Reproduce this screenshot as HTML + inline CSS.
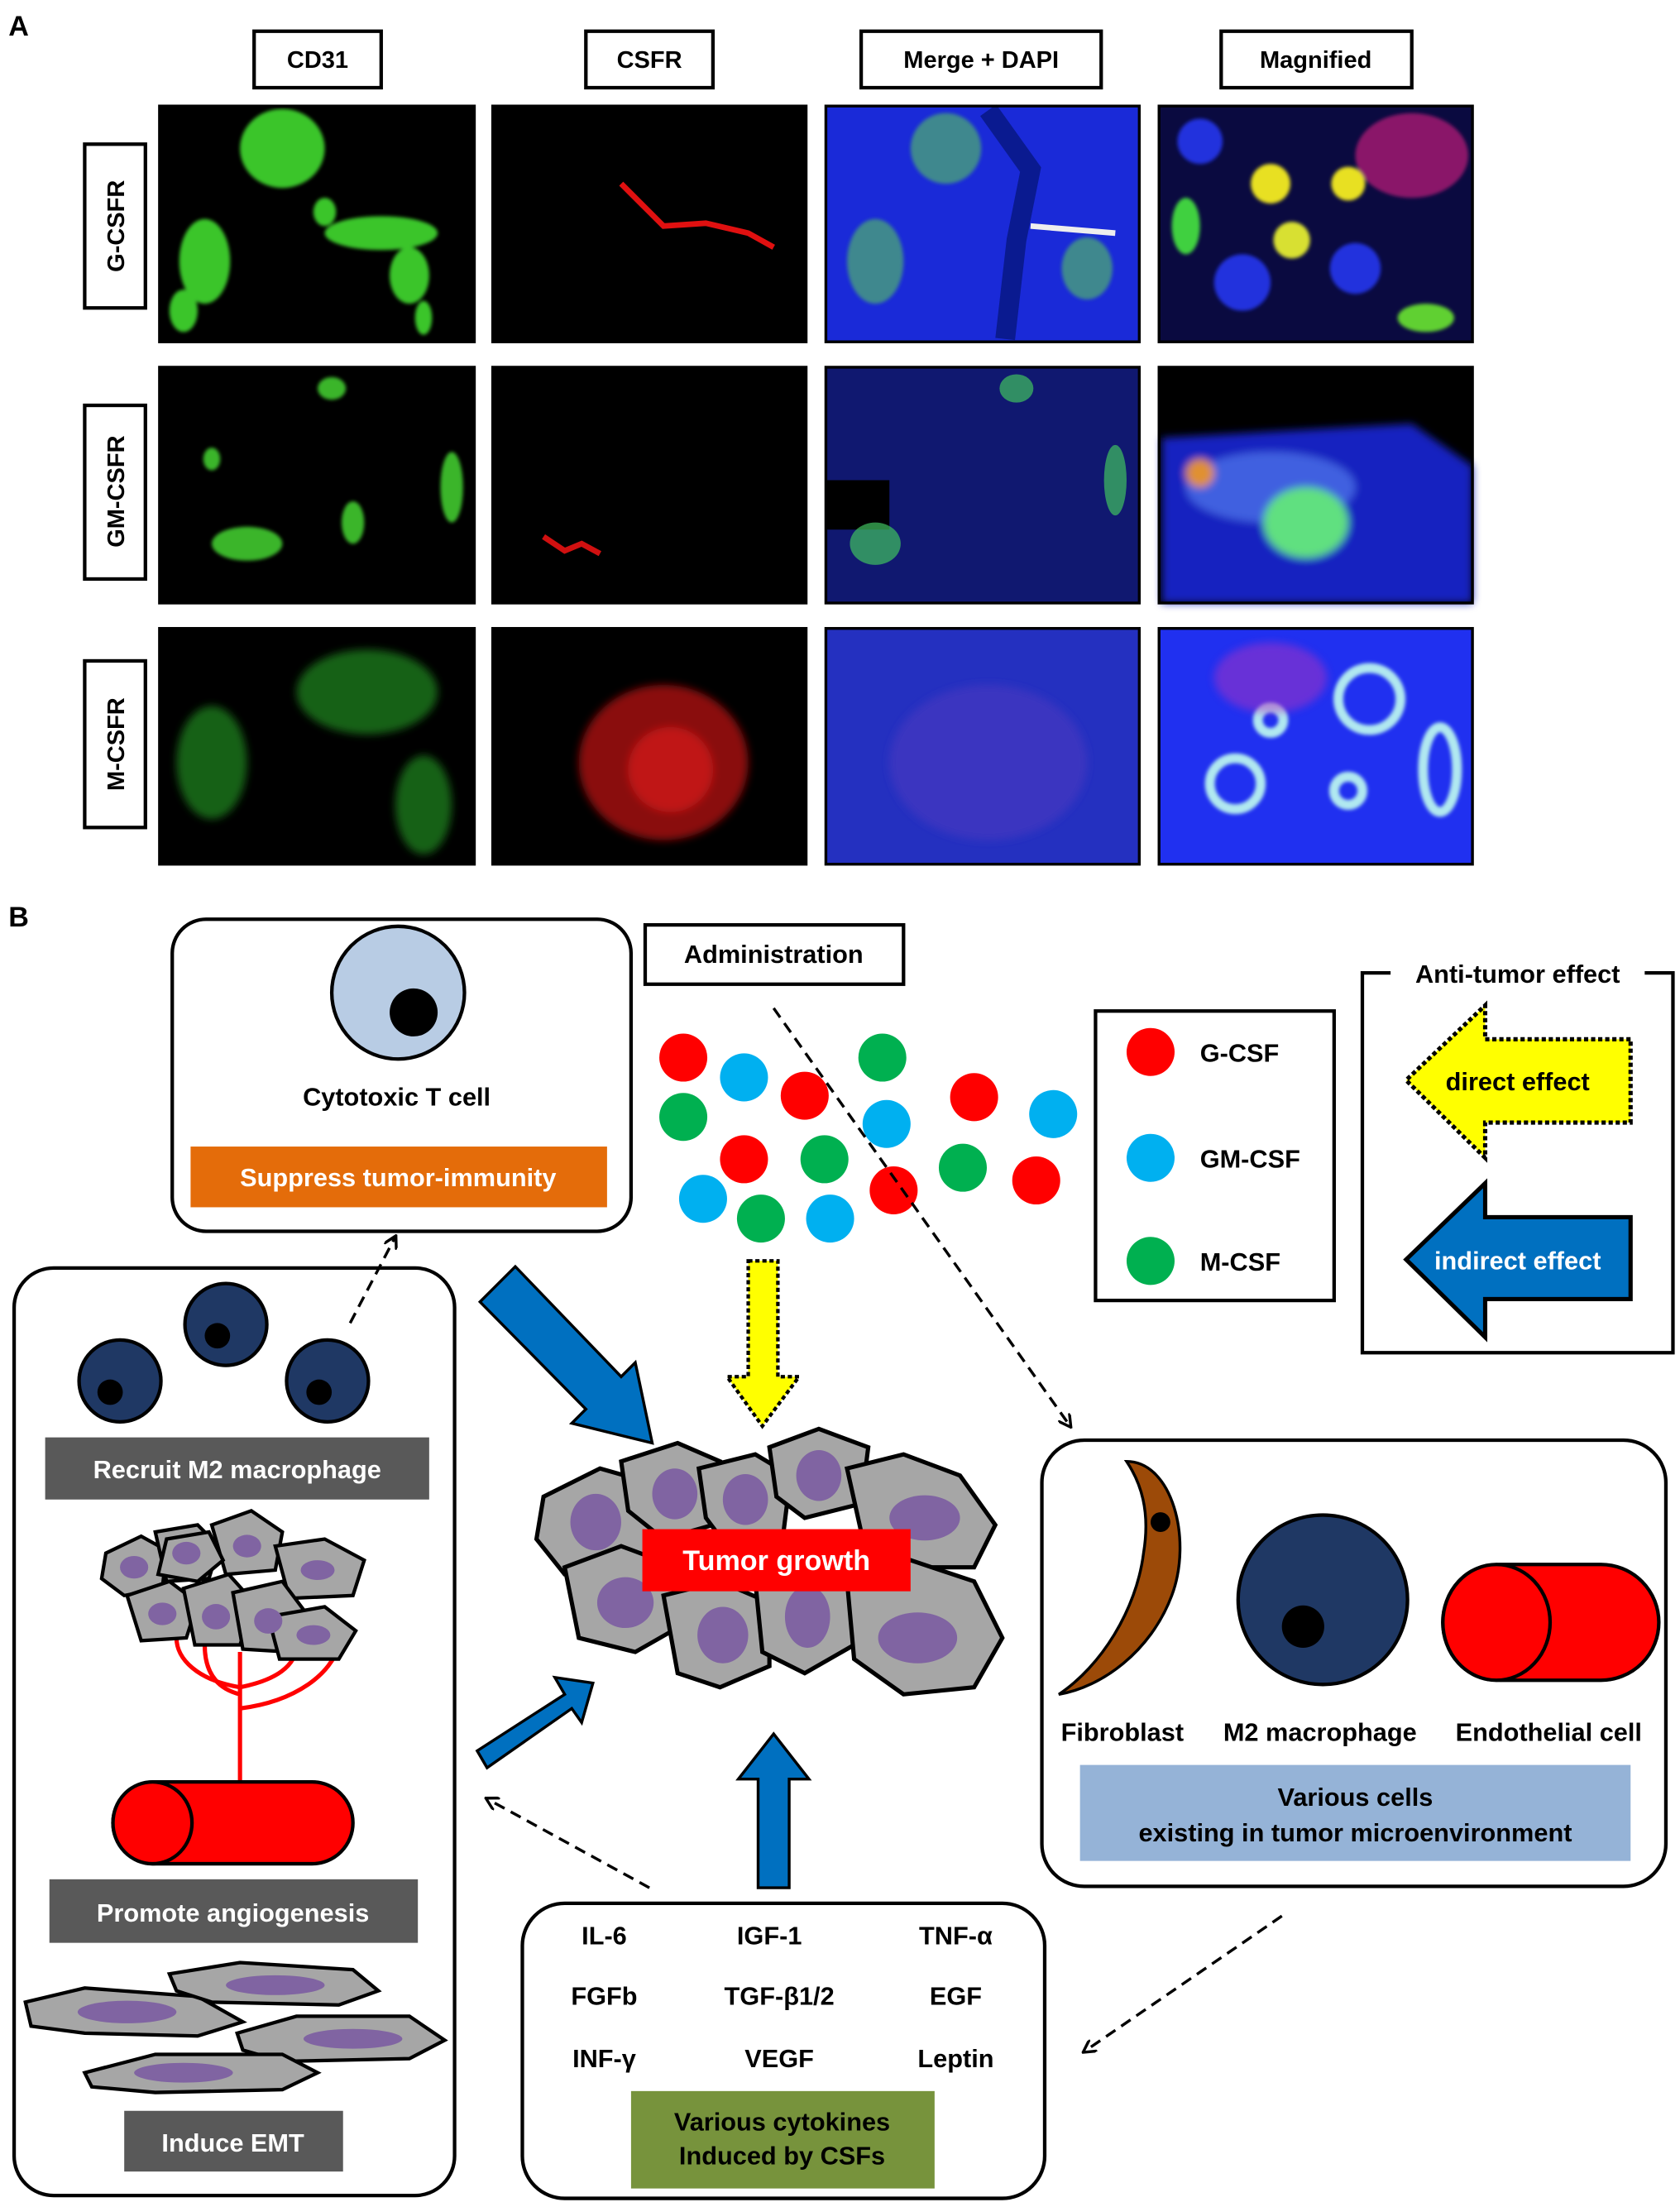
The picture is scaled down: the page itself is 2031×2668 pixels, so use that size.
<!DOCTYPE html>
<html><head><meta charset="utf-8"><style>
html,body{margin:0;padding:0;background:#fff}
svg{display:block}
text{font-family:"Liberation Sans",Arial,sans-serif;font-weight:bold}
</style></head><body>
<svg width="2031" height="2668" viewBox="0 0 1190 1563" xmlns="http://www.w3.org/2000/svg">
<defs>
<filter id="bl"><feGaussianBlur stdDeviation="3"/></filter>
<filter id="bl2"><feGaussianBlur stdDeviation="1.2"/></filter>
<marker id="ah" markerWidth="10" markerHeight="10" refX="8" refY="5" orient="auto" markerUnits="userSpaceOnUse"><path d="M0,0 L9,5 L0,10" fill="none" stroke="#000" stroke-width="2"/></marker>
</defs>
<rect width="1190" height="1563" fill="#fff"/>
<text x="6" y="25" font-size="20">A</text>
<text x="6" y="656" font-size="20">B</text>
<g font-size="17" text-anchor="middle">
<rect x="180" y="22" width="90" height="40" fill="#fff" stroke="#000" stroke-width="2.5"/><text x="225" y="48">CD31</text>
<rect x="415" y="22" width="90" height="40" fill="#fff" stroke="#000" stroke-width="2.5"/><text x="460" y="48">CSFR</text>
<rect x="610" y="22" width="170" height="40" fill="#fff" stroke="#000" stroke-width="2.5"/><text x="695" y="48">Merge + DAPI</text>
<rect x="865" y="22" width="135" height="40" fill="#fff" stroke="#000" stroke-width="2.5"/><text x="932" y="48">Magnified</text>
</g>
<g font-size="17" text-anchor="middle">
<rect x="60" y="102" width="43" height="116" fill="#fff" stroke="#000" stroke-width="2.5"/><text transform="translate(88,160) rotate(-90)">G-CSFR</text>
<rect x="60" y="287" width="43" height="123" fill="#fff" stroke="#000" stroke-width="2.5"/><text transform="translate(88,348) rotate(-90)">GM-CSFR</text>
<rect x="60" y="468" width="43" height="118" fill="#fff" stroke="#000" stroke-width="2.5"/><text transform="translate(88,527) rotate(-90)">M-CSFR</text>
</g>
<!-- row 1 -->
<rect x="113" y="75" width="223" height="167" fill="#000"/>
<g fill="#3ac52a" filter="url(#bl2)"><ellipse cx="200" cy="105" rx="30" ry="28"/><ellipse cx="145" cy="185" rx="18" ry="30"/><ellipse cx="270" cy="165" rx="40" ry="12"/><ellipse cx="290" cy="195" rx="14" ry="20"/><ellipse cx="230" cy="150" rx="8" ry="10"/><ellipse cx="130" cy="220" rx="10" ry="15"/><ellipse cx="300" cy="225" rx="6" ry="12"/></g>
<rect x="349" y="75" width="222" height="167" fill="#000"/>
<path d="M440,130 L455,145 L470,160 L500,158 L530,165 L548,175" stroke="#e01010" stroke-width="4" fill="none"/>
<rect x="585" y="75" width="222" height="167" fill="#1a2ad8"/>
<g fill="#4fb070" opacity="0.7" filter="url(#bl2)"><ellipse cx="670" cy="105" rx="25" ry="25"/><ellipse cx="620" cy="185" rx="20" ry="30"/><ellipse cx="770" cy="190" rx="18" ry="22"/></g>
<path d="M700,78 L730,120 L720,170 L712,240" stroke="#0a1a90" stroke-width="14" fill="none"/>
<path d="M730,160 L790,165" stroke="#eee" stroke-width="4"/>
<rect x="821" y="75" width="222" height="167" fill="#0a0a40"/>
<g filter="url(#bl2)"><ellipse cx="1000" cy="110" rx="40" ry="30" fill="#c0207a" opacity="0.7"/><circle cx="900" cy="130" r="14" fill="#e8e020"/><circle cx="955" cy="130" r="12" fill="#e8e020"/><circle cx="915" cy="170" r="13" fill="#d8e030"/><ellipse cx="840" cy="160" rx="10" ry="20" fill="#40d040"/><ellipse cx="1010" cy="225" rx="20" ry="10" fill="#60d030"/><circle cx="880" cy="200" r="20" fill="#2233dd"/><circle cx="960" cy="190" r="18" fill="#2233dd"/><circle cx="850" cy="100" r="16" fill="#2233dd"/></g>
<!-- row 2 -->
<rect x="113" y="260" width="223" height="167" fill="#000"/>
<g fill="#3ab52a" filter="url(#bl2)"><ellipse cx="175" cy="385" rx="25" ry="12"/><ellipse cx="235" cy="275" rx="10" ry="8"/><ellipse cx="250" cy="370" rx="8" ry="15"/><ellipse cx="320" cy="345" rx="8" ry="25"/><ellipse cx="150" cy="325" rx="6" ry="8"/></g>
<rect x="349" y="260" width="222" height="167" fill="#000"/>
<path d="M385,380 L400,390 L412,385 L425,392" stroke="#d01010" stroke-width="4" fill="none"/>
<rect x="585" y="260" width="222" height="167" fill="#101870"/>
<rect x="585" y="340" width="45" height="35" fill="#000"/>
<g fill="#40c060" opacity="0.7"><ellipse cx="620" cy="385" rx="18" ry="15"/><ellipse cx="720" cy="275" rx="12" ry="10"/><ellipse cx="790" cy="340" rx="8" ry="25"/></g>
<rect x="821" y="260" width="222" height="167" fill="#000"/>
<g filter="url(#bl)"><path d="M823,310 L1000,300 L1043,330 L1043,427 L823,427 Z" fill="#1522c0"/><ellipse cx="900" cy="345" rx="60" ry="25" fill="#4060e0"/><ellipse cx="925" cy="370" rx="30" ry="25" fill="#60e080"/><circle cx="850" cy="335" r="10" fill="#e09030"/></g>
<!-- row 3 -->
<rect x="113" y="445" width="223" height="167" fill="#000"/>
<g fill="#1c7a1c" opacity="0.8" filter="url(#bl)"><ellipse cx="260" cy="490" rx="50" ry="30"/><ellipse cx="150" cy="540" rx="25" ry="40"/><ellipse cx="300" cy="570" rx="20" ry="35"/></g>
<rect x="349" y="445" width="222" height="167" fill="#000"/>
<g filter="url(#bl)"><ellipse cx="470" cy="540" rx="60" ry="55" fill="#8a1010"/><ellipse cx="475" cy="545" rx="30" ry="30" fill="#c01818"/></g>
<rect x="585" y="445" width="222" height="167" fill="#2430c0"/>
<ellipse cx="700" cy="540" rx="70" ry="55" fill="#3a34c0" filter="url(#bl)"/>
<rect x="821" y="445" width="222" height="167" fill="#2030f0"/>
<g filter="url(#bl2)" fill="none" stroke="#b0e8f0" stroke-width="7"><circle cx="970" cy="495" r="22"/><circle cx="900" cy="510" r="9"/><circle cx="875" cy="555" r="18"/><circle cx="955" cy="560" r="10"/><ellipse cx="1020" cy="545" rx="12" ry="30"/></g>
<ellipse cx="900" cy="480" rx="40" ry="25" fill="#b030c0" opacity="0.5" filter="url(#bl)"/>
<g fill="none" stroke="#000" stroke-width="2">
<rect x="113" y="75" width="223" height="167"/><rect x="349" y="75" width="222" height="167"/><rect x="585" y="75" width="222" height="167"/><rect x="821" y="75" width="222" height="167"/>
<rect x="113" y="260" width="223" height="167"/><rect x="349" y="260" width="222" height="167"/><rect x="585" y="260" width="222" height="167"/><rect x="821" y="260" width="222" height="167"/>
<rect x="113" y="445" width="223" height="167"/><rect x="349" y="445" width="222" height="167"/><rect x="585" y="445" width="222" height="167"/><rect x="821" y="445" width="222" height="167"/>
</g>

<!-- Panel B -->
<rect x="122" y="651" width="325" height="221" rx="24" fill="#fff" stroke="#000" stroke-width="2.5"/>
<circle cx="282" cy="703" r="47" fill="#b8cce4" stroke="#000" stroke-width="2.5"/>
<circle cx="293" cy="717" r="17" fill="#000"/>
<text x="281" y="783" font-size="18" text-anchor="middle">Cytotoxic T cell</text>
<rect x="135" y="812" width="295" height="43" fill="#e46c0a"/>
<text x="282" y="840" font-size="18" fill="#fff" text-anchor="middle">Suppress tumor-immunity</text>

<rect x="457" y="655" width="183" height="42" fill="#fff" stroke="#000" stroke-width="2.5"/>
<text x="548" y="682" font-size="18" text-anchor="middle">Administration</text>

<g fill="#ff0000"><circle cx="484" cy="749" r="17"/><circle cx="570" cy="776" r="17"/><circle cx="527" cy="821" r="17"/><circle cx="690" cy="777" r="17"/><circle cx="633" cy="843" r="17"/><circle cx="734" cy="836" r="17"/></g>
<g fill="#00b0f0"><circle cx="527" cy="763" r="17"/><circle cx="628" cy="796" r="17"/><circle cx="498" cy="849" r="17"/><circle cx="588" cy="863" r="17"/><circle cx="746" cy="789" r="17"/></g>
<g fill="#00b050"><circle cx="484" cy="791" r="17"/><circle cx="625" cy="749" r="17"/><circle cx="584" cy="821" r="17"/><circle cx="539" cy="863" r="17"/><circle cx="682" cy="827" r="17"/></g>
<line x1="548" y1="714" x2="758" y2="1010" stroke="#000" stroke-width="2" stroke-dasharray="8,5" marker-end="url(#ah)"/>

<rect x="776" y="716" width="169" height="205" fill="#fff" stroke="#000" stroke-width="2.5"/>
<circle cx="815" cy="745" r="17" fill="#ff0000"/><text x="850" y="752" font-size="18">G-CSF</text>
<circle cx="815" cy="820" r="17" fill="#00b0f0"/><text x="850" y="827" font-size="18">GM-CSF</text>
<circle cx="815" cy="893" r="17" fill="#00b050"/><text x="850" y="900" font-size="18">M-CSF</text>

<path d="M985,689 L965,689 L965,958 L1185,958 L1185,689 L1165,689" fill="none" stroke="#000" stroke-width="2.5"/>
<text x="1075" y="696" font-size="18" text-anchor="middle">Anti-tumor effect</text>
<path d="M1155,736 L1052,736 L1052,712 L996,765 L1052,820 L1052,795 L1155,795 Z" fill="#ffff00" stroke="#000" stroke-width="3" stroke-dasharray="3,2"/>
<text x="1075" y="772" font-size="18" text-anchor="middle">direct effect</text>
<path d="M1155,862 L1052,862 L1052,838 L996,892 L1052,947 L1052,920 L1155,920 Z" fill="#0070c0" stroke="#000" stroke-width="3"/>
<text x="1075" y="899" font-size="18" fill="#fff" text-anchor="middle">indirect effect</text>

<!-- left box -->
<rect x="10" y="898" width="312" height="657" rx="28" fill="#fff" stroke="#000" stroke-width="2.5"/>
<g fill="#1f3864" stroke="#000" stroke-width="2.5"><circle cx="85" cy="978" r="29"/><circle cx="160" cy="938" r="29"/><circle cx="232" cy="978" r="29"/></g>
<g fill="#000"><circle cx="78" cy="986" r="9"/><circle cx="154" cy="946" r="9"/><circle cx="226" cy="986" r="9"/></g>
<line x1="248" y1="937" x2="280" y2="876" stroke="#000" stroke-width="2" stroke-dasharray="8,5" marker-end="url(#ah)"/>
<rect x="32" y="1018" width="272" height="44" fill="#595959"/>
<text x="168" y="1047" font-size="18" fill="#fff" text-anchor="middle">Recruit M2 macrophage</text>
<g stroke="#ff0000" stroke-width="3" fill="none"><path d="M170,1170 L170,1262"/><path d="M170,1195 C140,1190 125,1175 125,1160"/><path d="M170,1195 C195,1190 210,1180 210,1165"/><path d="M170,1210 C210,1205 235,1185 240,1165"/><path d="M170,1200 C150,1195 145,1180 145,1165"/></g>
<g stroke="#000" stroke-width="2.5" fill="#a6a6a6">
<path d="M75,1100 L100,1088 L118,1098 L115,1125 L88,1130 L72,1118Z"/><path d="M110,1085 L140,1080 L155,1095 L148,1118 L118,1120Z"/><path d="M150,1080 L178,1070 L200,1085 L195,1112 L160,1115Z"/><path d="M195,1095 L230,1090 L258,1105 L250,1130 L205,1132Z"/><path d="M90,1130 L120,1120 L140,1135 L132,1160 L100,1162Z"/><path d="M130,1125 L162,1115 L180,1135 L170,1165 L138,1165Z"/><path d="M165,1128 L200,1120 L215,1140 L205,1170 L172,1168Z"/><path d="M190,1145 L230,1138 L252,1155 L240,1175 L198,1175Z"/><path d="M118,1090 L148,1085 L158,1105 L140,1120 L112,1115Z"/></g>
<g fill="#8064a2"><ellipse cx="95" cy="1110" rx="10" ry="8"/><ellipse cx="132" cy="1100" rx="10" ry="8"/><ellipse cx="175" cy="1095" rx="10" ry="8"/><ellipse cx="225" cy="1112" rx="12" ry="7"/><ellipse cx="115" cy="1143" rx="10" ry="8"/><ellipse cx="153" cy="1145" rx="10" ry="9"/><ellipse cx="190" cy="1148" rx="10" ry="9"/><ellipse cx="222" cy="1158" rx="12" ry="7"/></g>
<rect x="80" y="1262" width="170" height="58" rx="29" fill="#ff0000" stroke="#000" stroke-width="2.5"/>
<ellipse cx="108" cy="1291" rx="28" ry="29" fill="#ff0000" stroke="#000" stroke-width="2.5"/>
<rect x="35" y="1331" width="261" height="45" fill="#595959"/>
<text x="165" y="1361" font-size="18" fill="#fff" text-anchor="middle">Promote angiogenesis</text>
<g stroke="#000" stroke-width="2.5" fill="#a6a6a6">
<path d="M18,1418 L60,1408 L140,1414 L172,1432 L140,1442 L60,1440 L22,1435Z"/>
<path d="M120,1398 L170,1390 L250,1395 L268,1410 L240,1420 L150,1418 L125,1410Z"/>
<path d="M168,1440 L210,1428 L290,1428 L315,1445 L290,1458 L200,1460 L172,1452Z"/>
<path d="M60,1468 L110,1455 L200,1455 L225,1468 L200,1480 L110,1482 L65,1478Z"/></g>
<g fill="#8064a2"><ellipse cx="90" cy="1425" rx="35" ry="8"/><ellipse cx="195" cy="1406" rx="35" ry="7"/><ellipse cx="250" cy="1444" rx="35" ry="7"/><ellipse cx="130" cy="1468" rx="35" ry="7"/></g>
<rect x="88" y="1495" width="155" height="43" fill="#595959"/>
<text x="165" y="1524" font-size="18" fill="#fff" text-anchor="middle">Induce EMT</text>

<!-- blue arrows -->
<g fill="#0070c0" stroke="#000" stroke-width="2">
<path d="M352,910 L365,897 L440,975 L450,965 L462,1022 L405,1008 L415,998 L340,922Z"/>
<path d="M338,1240 L400,1200 L393,1188 L420,1192 L412,1220 L405,1210 L345,1252Z" transform="translate(0,0)"/>
<path d="M537,1337 L537,1260 L523,1260 L548,1228 L573,1260 L559,1260 L559,1337Z"/>
</g>
<path d="M530,893 L551,893 L551,975 L566,975 L540,1010 L515,975 L530,975Z" fill="#ffff00" stroke="#000" stroke-width="2.5" stroke-dasharray="3,2"/>

<!-- tumor -->
<g stroke="#000" stroke-width="3" fill="#a6a6a6">
<path d="M385,1060 L425,1040 L460,1050 L470,1090 L445,1120 L400,1115 L380,1090Z"/>
<path d="M440,1035 L480,1022 L510,1035 L505,1080 L470,1090 L445,1070Z"/>
<path d="M495,1040 L535,1030 L560,1045 L555,1085 L515,1095 L500,1075Z"/>
<path d="M545,1025 L580,1012 L615,1025 L610,1065 L570,1075 L550,1060Z"/>
<path d="M600,1040 L640,1030 L680,1045 L705,1080 L690,1110 L640,1110 L610,1085Z"/>
<path d="M400,1110 L440,1095 L480,1110 L485,1150 L450,1170 L410,1160Z"/>
<path d="M470,1130 L510,1120 L545,1135 L545,1180 L510,1195 L480,1185Z"/>
<path d="M535,1120 L575,1105 L610,1120 L605,1165 L570,1185 L540,1170Z"/>
<path d="M600,1120 L645,1105 L690,1120 L710,1160 L690,1195 L640,1200 L605,1175Z"/>
</g>
<g fill="#8064a2"><ellipse cx="422" cy="1078" rx="18" ry="20"/><ellipse cx="478" cy="1058" rx="16" ry="18"/><ellipse cx="528" cy="1062" rx="16" ry="18"/><ellipse cx="580" cy="1045" rx="16" ry="18"/><ellipse cx="655" cy="1075" rx="25" ry="16"/><ellipse cx="443" cy="1135" rx="20" ry="18"/><ellipse cx="512" cy="1158" rx="18" ry="20"/><ellipse cx="572" cy="1145" rx="16" ry="22"/><ellipse cx="650" cy="1160" rx="28" ry="18"/></g>
<rect x="455" y="1083" width="190" height="44" fill="#ff0000"/>
<text x="550" y="1112" font-size="20" fill="#fff" text-anchor="middle">Tumor growth</text>

<!-- right box -->
<rect x="738" y="1020" width="442" height="316" rx="30" fill="#fff" stroke="#000" stroke-width="2.5"/>
<path d="M798,1035 C830,1035 845,1090 830,1130 C815,1170 780,1195 750,1200 C780,1180 805,1140 810,1100 C815,1070 808,1050 798,1035Z" fill="#9c4a08" stroke="#000" stroke-width="2"/>
<circle cx="822" cy="1078" r="7" fill="#000"/>
<circle cx="937" cy="1133" r="60" fill="#1f3864" stroke="#000" stroke-width="2.5"/>
<circle cx="923" cy="1152" r="15" fill="#000"/>
<rect x="1022" y="1108" width="153" height="82" rx="41" fill="#ff0000" stroke="#000" stroke-width="2.5"/>
<ellipse cx="1060" cy="1149" rx="38" ry="41" fill="#ff0000" stroke="#000" stroke-width="2.5"/>
<text x="795" y="1233" font-size="18" text-anchor="middle">Fibroblast</text>
<text x="935" y="1233" font-size="18" text-anchor="middle">M2 macrophage</text>
<text x="1097" y="1233" font-size="18" text-anchor="middle">Endothelial cell</text>
<rect x="765" y="1250" width="390" height="68" fill="#95b3d7"/>
<text x="960" y="1279" font-size="18" text-anchor="middle">Various cells</text>
<text x="960" y="1304" font-size="18" text-anchor="middle">existing in tumor microenvironment</text>

<line x1="460" y1="1337" x2="345" y2="1274" stroke="#000" stroke-width="2" stroke-dasharray="8,5" marker-end="url(#ah)"/>
<line x1="908" y1="1357" x2="768" y2="1453" stroke="#000" stroke-width="2" stroke-dasharray="8,5" marker-end="url(#ah)"/>

<!-- cytokines -->
<rect x="370" y="1348" width="370" height="209" rx="30" fill="#fff" stroke="#000" stroke-width="2.5"/>
<g font-size="18" text-anchor="middle">
<text x="428" y="1377">IL-6</text><text x="545" y="1377">IGF-1</text><text x="677" y="1377">TNF-α</text>
<text x="428" y="1420">FGFb</text><text x="552" y="1420">TGF-β1/2</text><text x="677" y="1420">EGF</text>
<text x="428" y="1464">INF-γ</text><text x="552" y="1464">VEGF</text><text x="677" y="1464">Leptin</text>
</g>
<rect x="447" y="1481" width="215" height="69" fill="#77933c"/>
<text x="554" y="1509" font-size="18" text-anchor="middle">Various cytokines</text>
<text x="554" y="1533" font-size="18" text-anchor="middle">Induced by CSFs</text>
</svg>
</body></html>
